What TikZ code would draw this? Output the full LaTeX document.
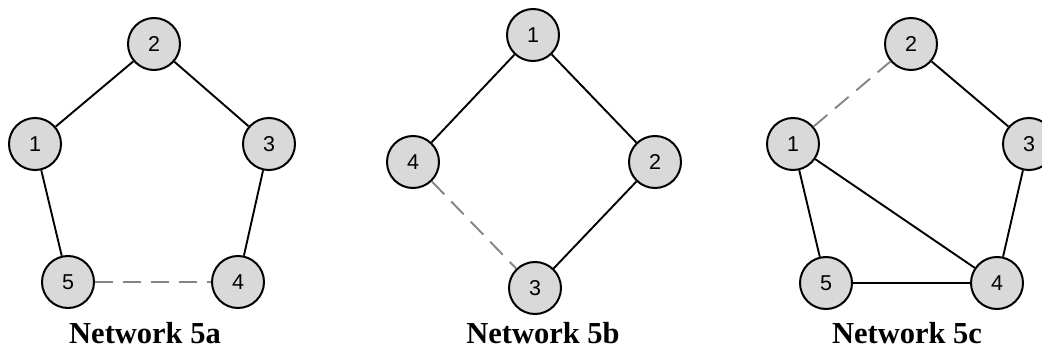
\documentclass[tikz,border=0pt]{standalone}
\usepackage{fontspec}
\setmainfont{Liberation Serif}
\newfontfamily\numfont{Liberation Sans}
\definecolor{vertexgray}{HTML}{D9D9D9}
\definecolor{dashgray}{HTML}{858585}

\begin{document}
\begin{tikzpicture}[x=1pt, y=-1pt]
            \tikzstyle{vertex} = [circle, draw, line width=2pt, fill=vertexgray, minimum size=52pt, inner sep=0pt, font=\numfont\fontsize{21.5}{22}\selectfont]
            \tikzstyle{link} = [line width=1.9pt]
            \tikzstyle{broken link} = [line width=1.9pt, dashgray, dash pattern=on 18pt off 10pt]
            \tikzstyle{caption} = [anchor=base, font=\bfseries\fontsize{30.5}{36}\selectfont]
            \useasboundingbox (0, 0) rectangle (1042, 350);
            \begin{scope}
                \node[vertex] (a2) at (154, 44) {2};
                \node[vertex] (a1) at (35, 144) {1};
                \node[vertex] (a3) at (269, 144) {3};
                \node[vertex] (a5) at (68, 282) {5};
                \node[vertex] (a4) at (238, 282) {4};
                \draw[link] (a1) -- (a2) -- (a3) -- (a4);
                \draw[link] (a1) -- (a5);
                \draw[broken link] (a5) -- (a4);
                \node[caption] (acap) at (145, 343) {Network 5a};
            \end{scope}
            \begin{scope}[xshift=380pt]
                \node[vertex] (b1) at (153, 35) {1};
                \node[vertex] (b4) at (33, 162) {4};
                \node[vertex] (b2) at (275, 162) {2};
                \node[vertex] (b3) at (155, 288) {3};
                \draw[link] (b4) -- (b1) -- (b2) -- (b3);
                \draw[broken link] (b4) -- (b3);
                \node[caption] (bcap) at (163, 343) {Network 5b};
            \end{scope}
            \begin{scope}[xshift=758pt]
                \node[vertex] (c2) at (153, 44) {2};
                \node[vertex] (c1) at (35, 144) {1};
                \node[vertex] (c3) at (271, 144) {3};
                \node[vertex] (c5) at (68, 283) {5};
                \node[vertex] (c4) at (239, 283) {4};
                \draw[link] (c2) -- (c3) -- (c4) -- (c5) -- (c1) -- (c4);
                \draw[broken link] (c1) -- (c2);
                \node[caption] (ccap) at (149, 343) {Network 5c};
            \end{scope}
        \end{tikzpicture}
\end{document}
